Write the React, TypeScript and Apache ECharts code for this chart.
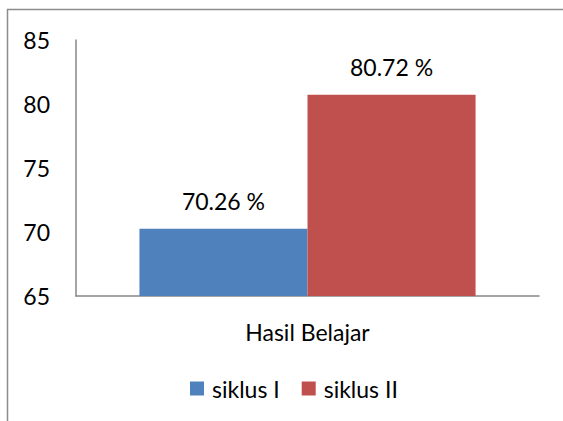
import React, { useEffect, useRef } from "react";
import * as echarts from "echarts";

const categories = ["Hasil Belajar"];
const seriesNames = ["siklus I", "siklus II"];
const siklus1 = [70.26];
const siklus2 = [80.72];
const colors = ["#4F81BD", "#C0504D"];

const FONT = "Lato";
const FS = 23;

export default function App() {
  const ref = useRef<HTMLDivElement>(null);
  useEffect(() => {
    document.body.style.margin = "0";
    const chart = echarts.init(ref.current!, null, { renderer: "svg" });
    const label = {
      show: true,
      position: "top" as const,
      distance: 16,
      fontFamily: FONT,
      fontSize: FS,
      color: "#000",
      formatter: (p: any) => `${p.value.toFixed(2)} %`,
    };
    chart.setOption({
      animation: false,
      backgroundColor: "#fff",
      grid: { left: 76, right: 24, top: 40, bottom: 125, containLabel: false },
      legend: {
        data: seriesNames,
        top: 372,
        left: 185,
        itemWidth: 14,
        itemHeight: 14,
        itemGap: 22,
        icon: "rect",
        textStyle: { fontFamily: FONT, fontSize: FS, color: "#000", padding: [0, 0, 0, 3] },
      },
      xAxis: {
        type: "category",
        data: categories,
        axisLine: { lineStyle: { color: "#868686", width: 1.5 } },
        axisTick: { show: false },
        axisLabel: { fontFamily: FONT, fontSize: FS, color: "#000", margin: 24 },
      },
      yAxis: {
        type: "value",
        min: 65,
        max: 85,
        interval: 5,
        axisLine: { show: true, lineStyle: { color: "#868686", width: 1.5 } },
        axisTick: { show: false },
        splitLine: { show: false },
        axisLabel: { fontFamily: FONT, fontSize: FS, color: "#000", margin: 26 },
      },
      series: [
        {
          name: seriesNames[0],
          type: "bar",
          data: siklus1,
          itemStyle: { color: colors[0] },
          barGap: "0%",
          barCategoryGap: "27.4%",
          label,
        },
        {
          name: seriesNames[1],
          type: "bar",
          data: siklus2,
          itemStyle: { color: colors[1] },
          barGap: "0%",
          barCategoryGap: "27.4%",
          label,
        },
      ],
      graphic: [
        {
          type: "rect",
          shape: { x: 7.5, y: 9.5, width: 700, height: 600 },
          style: { fill: "none", stroke: "#8c8c8c", lineWidth: 1.5 },
          silent: true,
          z: 100,
        },
      ],
    });
    return () => chart.dispose();
  }, []);
  return <div ref={ref} style={{ width: 563, height: 421 }} />;
}
